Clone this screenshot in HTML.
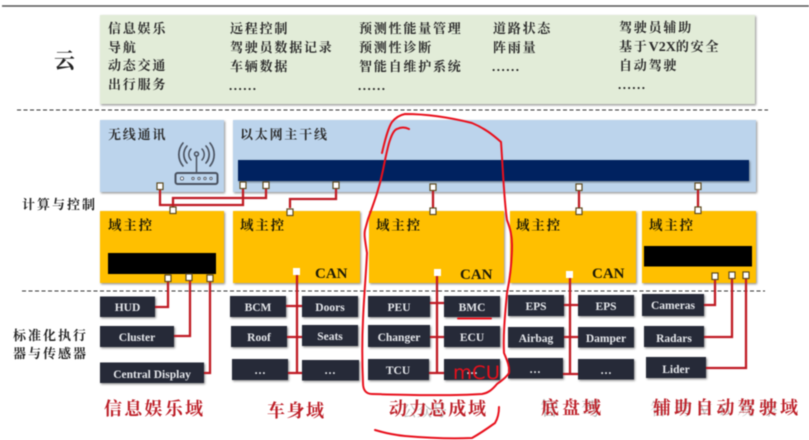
<!DOCTYPE html>
<html><head><meta charset="utf-8">
<style>
html,body{margin:0;padding:0;background:#fff;width:809px;height:440px;overflow:hidden}
svg{display:block;filter:blur(.5px)}
text{font-family:"Liberation Serif","Noto Serif CJK SC",serif}
.t{font-size:13px;letter-spacing:1.8px;fill:#2a2a2a;font-weight:700}
.dots{font-size:13px;letter-spacing:1.5px;fill:#222;font-weight:700}
.h{font-size:13px;letter-spacing:2px;fill:#222;font-weight:700}
.y{font-size:13.5px;letter-spacing:1.8px;fill:#1d1a05;font-weight:700}
.b{font-family:"Liberation Serif",serif;font-size:11.5px;font-weight:bold;fill:#e4e6ea;text-anchor:middle}
.c{font-family:"Liberation Serif",serif;font-size:15px;font-weight:bold;fill:#1c1a08}
.d{font-size:18px;fill:#bd1f28;font-weight:700}
.l{fill:none;stroke:#bf1b24;stroke-width:2.3}
.s{fill:#fff;stroke:#5e4a1e;stroke-width:1.2}
.ink{fill:none;stroke:#e8101c;stroke-width:2;stroke-linecap:round;stroke-linejoin:round}
</style></head><body>
<svg width="809" height="440" viewBox="0 0 809 440" xmlns="http://www.w3.org/2000/svg">
<defs>
<filter id="sh" x="-5%" y="-5%" width="112%" height="115%"><feDropShadow dx="1" dy="1.2" stdDeviation="1" flood-color="#000" flood-opacity=".45"/></filter>
</defs>
<rect width="809" height="440" fill="#fff"/>
<line x1="2" y1="6" x2="809" y2="6" stroke="#555" stroke-width="1.4"/>

<rect x="100" y="15" width="655" height="89" fill="#e2ecd8" filter="url(#sh)"/>
<line x1="17" y1="110" x2="768" y2="110" stroke="#333" stroke-dasharray="4 2.5" stroke-width="1"/>
<rect x="100" y="120" width="124" height="72" fill="#bcd4ec" filter="url(#sh)"/>
<rect x="233" y="120" width="523" height="72" fill="#bcd4ec" filter="url(#sh)"/>
<rect x="238" y="160" width="511" height="21" fill="#002060" filter="url(#sh)"/>

<g filter="url(#sh)" fill="#ffbf00">
<rect x="100" y="211" width="124" height="72"/>
<rect x="233" y="211" width="127" height="72"/>
<rect x="369" y="211" width="135" height="72"/>
<rect x="510" y="211" width="126" height="72"/>
<rect x="642" y="211" width="114" height="72"/>
</g>
<rect x="108" y="253" width="108" height="21" fill="#000"/>
<rect x="644" y="246" width="108" height="20.500" fill="#000"/>
<line x1="22" y1="291" x2="765" y2="291" stroke="#333" stroke-dasharray="4 2.500" stroke-width="1"/>

<!-- cloud text -->
<text x="54" y="68" font-size="21" font-weight="700" fill="#222">云</text>
<text class="t" x="108" y="33">信息娱乐</text>
<text class="t" x="108" y="52">导航</text>
<text class="t" x="108" y="70">动态交通</text>
<text class="t" x="108" y="89">出行服务</text>
<text class="t" x="230" y="33">远程控制</text>
<text class="t" x="230" y="52">驾驶员数据记录</text>
<text class="t" x="230" y="71">车辆数据</text>
<text class="dots" x="229" y="90">......</text>
<text class="t" x="359" y="33">预测性能量管理</text>
<text class="t" x="359" y="52">预测性诊断</text>
<text class="t" x="359" y="71">智能自维护系统</text>
<text class="dots" x="358" y="90">......</text>
<text class="t" x="493" y="33">道路状态</text>
<text class="t" x="493" y="52">阵雨量</text>
<text class="dots" x="492" y="71">......</text>
<text class="t" x="619" y="32">驾驶员辅助</text>
<text class="t" x="619" y="51">基于<tspan font-weight="bold" font-size="14" letter-spacing="0">V2X</tspan>的安全</text>
<text class="t" x="619" y="70">自动驾驶</text>
<text class="dots" x="618" y="89">......</text>

<text class="h" x="22" y="209">计算与控制</text>
<text class="h" x="13" y="340">标准化执行</text>
<text class="h" x="13" y="358">器与传感器</text>
<text class="t" x="108" y="139">无线通讯</text>
<text class="t" x="240" y="139">以太网主干线</text>

<text class="y" x="108" y="230">域主控</text>
<text class="y" x="240" y="230">域主控</text>
<text class="y" x="376" y="230">域主控</text>
<text class="y" x="516" y="230">域主控</text>
<text class="y" x="649" y="230">域主控</text>
<text class="c" x="315" y="278">CAN</text>
<text class="c" x="460" y="279">CAN</text>
<text class="c" x="592" y="278">CAN</text>

<!-- router icon -->
<g fill="none" stroke="#4a5260" stroke-width="1.500" stroke-linecap="round">
<rect x="175.500" y="173" width="42" height="11" rx="2" stroke-width="2"/>
<line x1="196.500" y1="156" x2="196.500" y2="173"/>
<circle cx="196.500" cy="154" r="2"/>
<path d="M191 149a8 8 0 0 0 0 11M202 149a8 8 0 0 1 0 11"/>
<path d="M187 146a13 13 0 0 0 0 17M206 146a13 13 0 0 1 0 17" stroke-width="1.700"/>
<path d="M183 143a18 18 0 0 0 0 23M210 143a18 18 0 0 1 0 23" stroke-width="1.700"/>
</g>
<g fill="#fff" stroke="#4a5260" stroke-width=".8">
<circle cx="182" cy="178.500" r="1.600"/><circle cx="193" cy="178.500" r="1.200"/><circle cx="199" cy="178.500" r="1.200"/><circle cx="205" cy="178.500" r="1.200"/><circle cx="211" cy="178.500" r="1.200"/>
</g>

<!-- dark boxes -->
<g fill="#262b38" filter="url(#sh)">
<rect x="100" y="296.500" width="55" height="20.500"/>
<rect x="100" y="326" width="74" height="21"/>
<rect x="100" y="362.500" width="104" height="20.500"/>
<rect x="230" y="296" width="56" height="21"/>
<rect x="302" y="296" width="56" height="21"/>
<rect x="231" y="326" width="56" height="21"/>
<rect x="302" y="325" width="56" height="21"/>
<rect x="232" y="359" width="56" height="21"/>
<rect x="302" y="360" width="57" height="20.500"/>
<rect x="368" y="296" width="62" height="21"/>
<rect x="368" y="325" width="62" height="22"/>
<rect x="368" y="359" width="61" height="21"/>
<rect x="444" y="296" width="56" height="21"/>
<rect x="444" y="326" width="56" height="21"/>
<rect x="444" y="359" width="56" height="21"/>
<rect x="508" y="295" width="56" height="21"/>
<rect x="578" y="295" width="56" height="21"/>
<rect x="508" y="327" width="56" height="20.500"/>
<rect x="578" y="327" width="56" height="20.500"/>
<rect x="508" y="358" width="55" height="20.500"/>
<rect x="578" y="359" width="56" height="20.500"/>
<rect x="642" y="294" width="62" height="22"/>
<rect x="644" y="326" width="60" height="21"/>
<rect x="646" y="357" width="60" height="21"/>
</g>

<!-- connectors -->
<g class="l">
<path d="M160 189V205H243V188"/>
<path d="M266 188V198H173V207"/>
<path d="M336 188V199H290V208"/>
<path d="M433 190V208"/>
<path d="M579 190V208"/>
<path d="M698 189V207"/>
<path d="M168 281V307H155"/>
<path d="M190 280V336H174"/>
<path d="M210 281V373H204"/>
<path d="M297 275V373M286 306H302M287 337H302M288 373H302"/>
<path d="M437 275V373M430 303H444M430 337H444M429 373H444"/>
<path d="M570 278V374M564 305H578M564 337H578M563 374H578"/>
<path d="M715 280V305H704"/>
<path d="M732 278V337H704"/>
<path d="M746 278V368H706"/>
</g>

<!-- terminals -->
<g class="s">
<rect x="157" y="183" width="6" height="6.500"/>
<rect x="240" y="182" width="6" height="6.500"/>
<rect x="263" y="182" width="6" height="6.500"/>
<rect x="333" y="182" width="6" height="6.500"/>
<rect x="430" y="184" width="6" height="6.500"/>
<rect x="576" y="184" width="6" height="6.500"/>
<rect x="695" y="183" width="6" height="6.500"/>
<rect x="170" y="207" width="6" height="6.500"/>
<rect x="287" y="209" width="6" height="6.500"/>
<rect x="430" y="208" width="6" height="6.500"/>
<rect x="576" y="208" width="6" height="6.500"/>
<rect x="695" y="207" width="6" height="6.500"/>
<rect x="165" y="275" width="6" height="6.500"/>
<rect x="186" y="274" width="6" height="6.500"/>
<rect x="207" y="275" width="6" height="6.500"/>
<rect x="712" y="273" width="6" height="6.500"/>
<rect x="729" y="272" width="6" height="6.500"/>
<rect x="743" y="272" width="6" height="6.500"/>
</g>
<g fill="#fff">
<rect x="293" y="268" width="7" height="7"/>
<rect x="434" y="269" width="7" height="7"/>
<rect x="566" y="271" width="7" height="7"/>
</g>

<!-- box labels -->
<text class="b" x="127.500" y="311">HUD</text>
<text class="b" x="137" y="341">Cluster</text>
<text class="b" x="152" y="378">Central Display</text>
<text class="b" x="258" y="311">BCM</text>
<text class="b" x="330" y="311">Doors</text>
<text class="b" x="259" y="341">Roof</text>
<text class="b" x="330" y="340">Seats</text>
<text class="b" x="260" y="374">…</text>
<text class="b" x="330" y="374">…</text>
<text class="b" x="399" y="311">PEU</text>
<text class="b" x="399" y="341">Changer</text>
<text class="b" x="398" y="374">TCU</text>
<text class="b" x="472" y="311">BMC</text>
<text class="b" x="472" y="341">ECU</text>
<text class="b" x="472" y="374">…</text>
<text class="b" x="536" y="310">EPS</text>
<text class="b" x="606" y="310">EPS</text>
<text class="b" x="536" y="342">Airbag</text>
<text class="b" x="606" y="342">Damper</text>
<text class="b" x="535" y="373">…</text>
<text class="b" x="606" y="374">…</text>
<text class="b" x="673" y="309">Cameras</text>
<text class="b" x="674" y="342">Radars</text>
<text class="b" x="676" y="373">Lider</text>

<!-- domain labels -->
<text class="d" x="104" y="415" textLength="99">信息娱乐域</text>
<text class="d" x="267" y="417" textLength="57">车身域</text>
<text x="402" y="416" font-size="15" fill="#b5b5b5">公众号</text>
<text class="d" x="389" y="415" textLength="97">动力总成域</text>
<text x="540" y="415" font-size="19" fill="#b0b0b0" textLength="60">智驾</text>
<text class="d" x="541" y="414" textLength="60">底盘域</text>
<text x="650" y="415" font-size="17" fill="#c4c4c4" textLength="128">智驾MB观察</text>
<text class="d" x="653" y="414" textLength="145">辅助自动驾驶域</text>

<!-- hand-drawn annotations -->
<g class="ink">
<path d="M382 153C385 140 388 128 392 122C396 117 400 115 405 114C430 114 452 118 472 123C484 128 492 134 501 142C503 170 504 200 507 220C510 228 512 235 512 245C512 262 510 278 507 293C505 315 503 335 504 353C507 360 510 367 509 373C506 378 501 381 497 384C492 390 488 393 482 394C450 396 410 395 372 394C366 394 363 390 363 383C362 360 362 340 363 320C364 295 366 275 367 253C365 240 364 235 365 230L368 219C373 205 379 190 383 170C386 155 388 145 390 140C392 134 394 130 397 129C401 127 405 127 409 129"/>
<path d="M375 430C385 433 395 435 405 436C428 438 452 439 472 438C481 433 488 428 495 423C498 418 499 413 499 407"/>
<path d="M458 318.500H491"/>
</g>
<text x="453" y="379" style="font-family:'DejaVu Sans',sans-serif;font-size:19px" fill="#e8101c" textLength="47" lengthAdjust="spacingAndGlyphs">mCU</text>
</svg>
</body></html>
